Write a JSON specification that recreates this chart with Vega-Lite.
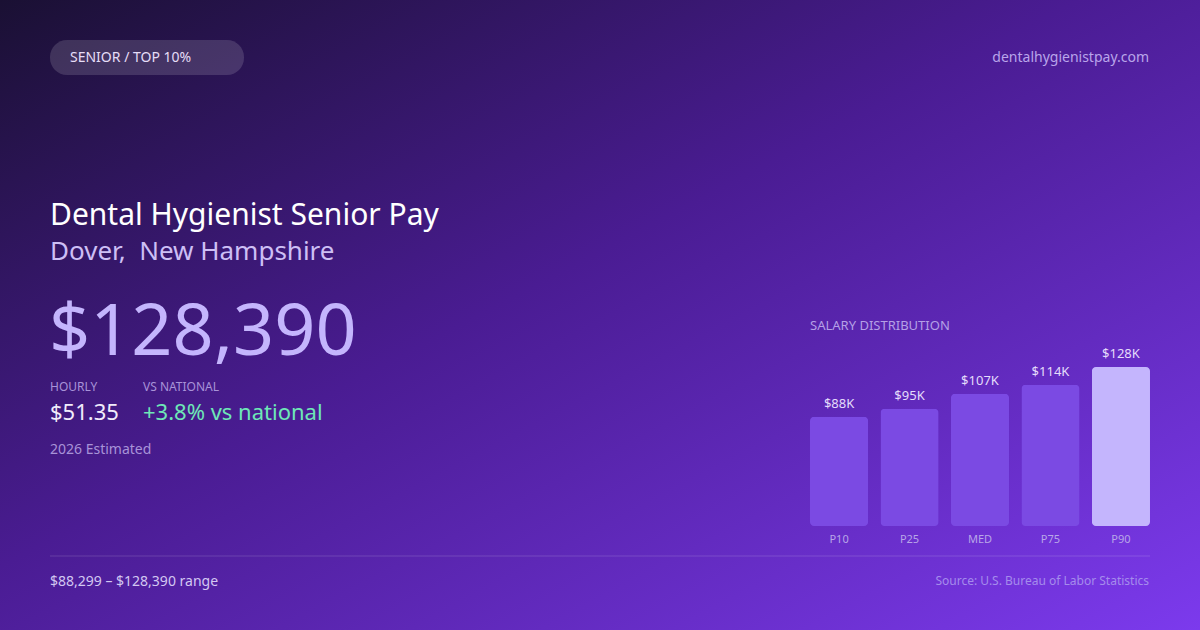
{
  "$schema": "https://vega.github.io/schema/vega-lite/v6.json",
  "width": 1200,
  "height": 630,
  "padding": 0,
  "autosize": {"type": "fit", "contains": "padding"},
  "view": {
    "stroke": null,
    "fill": {
      "gradient": "linear",
      "x1": 0, "y1": 0, "x2": 1, "y2": 1,
      "stops": [
        {"offset": 0, "color": "#1a1033"},
        {"offset": 0.45, "color": "#4a1c93"},
        {"offset": 1, "color": "#7c3aed"}
      ]
    }
  },
  "config": {
    "font": "Noto Sans",
    "text": {"font": "Noto Sans"}
  },
  "data": {
    "values": [
      {"pct": "P10", "value": 88299},
      {"pct": "P25", "value": 94600},
      {"pct": "MED", "value": 106800},
      {"pct": "P75", "value": 114000},
      {"pct": "P90", "value": 128390}
    ]
  },
  "transform": [
    {"calculate": "'$' + round(datum.value / 1000) + 'K'", "as": "label"}
  ],
  "layer": [
    {
      "mark": {"type": "bar", "cornerRadius": 4},
      "encoding": {
        "x": {
          "field": "pct", "type": "nominal", "sort": null,
          "scale": {"range": [810, 1150], "paddingInner": 0.175, "paddingOuter": 0},
          "axis": {
            "title": null, "domain": false, "ticks": false, "grid": false,
            "offset": -97, "labelPadding": 0, "labelFontSize": 11,
            "labelColor": "#b8a6e8", "labelFont": "Noto Sans", "labelAngle": 0
          }
        },
        "y": {
          "field": "value", "type": "quantitative",
          "scale": {"domain": [0, 128390], "range": [526, 367], "nice": false},
          "axis": null
        },
        "color": {
          "condition": {"test": "datum.pct === 'P90'", "value": "#c4b5fd"},
          "value": "#7b4ae3"
        }
      }
    },
    {
      "mark": {"type": "text", "dy": -13, "fontSize": 13, "color": "#e4dcfb"},
      "encoding": {
        "x": {"field": "pct", "type": "nominal", "sort": null, "bandPosition": 0.5},
        "y": {"field": "value", "type": "quantitative"},
        "text": {"field": "label"}
      }
    },
    {
      "data": {"values": [{"t": "badge"}]},
      "mark": {"type": "rect", "cornerRadius": 17, "color": "#ffffff", "opacity": 0.14},
      "encoding": {
        "x": {"value": 50}, "x2": {"value": 244},
        "y": {"value": 40}, "y2": {"value": 75}
      }
    },
    {
      "data": {"values": [{"t": "SENIOR / TOP 10%"}]},
      "mark": {"type": "text", "align": "left", "baseline": "middle", "fontSize": 14, "color": "#e6ddf7"},
      "encoding": {"x": {"value": 70}, "y": {"value": 58}, "text": {"field": "t"}}
    },
    {
      "data": {"values": [{"t": "dentalhygienistpay.com"}]},
      "mark": {"type": "text", "align": "right", "baseline": "middle", "fontSize": 14, "color": "#b9a5ea"},
      "encoding": {"x": {"value": 1149}, "y": {"value": 58}, "text": {"field": "t"}}
    },
    {
      "data": {"values": [{"t": "Dental Hygienist Senior Pay"}]},
      "mark": {"type": "text", "align": "left", "baseline": "alphabetic", "fontSize": 30, "color": "#ffffff"},
      "encoding": {"x": {"value": 50}, "y": {"value": 225}, "text": {"field": "t"}}
    },
    {
      "data": {"values": [{"t": "Dover,\u00a0 New Hampshire"}]},
      "mark": {"type": "text", "align": "left", "baseline": "alphabetic", "fontSize": 26, "color": "#cdbff5"},
      "encoding": {"x": {"value": 50}, "y": {"value": 260}, "text": {"field": "t"}}
    },
    {
      "data": {"values": [{"t": "$128,390"}]},
      "mark": {"type": "text", "align": "left", "baseline": "alphabetic", "fontSize": 72, "color": "#c4b5fd"},
      "encoding": {"x": {"value": 49}, "y": {"value": 355}, "text": {"field": "t"}}
    },
    {
      "data": {"values": [{"t": "HOURLY"}]},
      "mark": {"type": "text", "align": "left", "baseline": "alphabetic", "fontSize": 12, "color": "#a893d8"},
      "encoding": {"x": {"value": 50}, "y": {"value": 391}, "text": {"field": "t"}}
    },
    {
      "data": {"values": [{"t": "VS NATIONAL"}]},
      "mark": {"type": "text", "align": "left", "baseline": "alphabetic", "fontSize": 12, "color": "#a893d8"},
      "encoding": {"x": {"value": 143}, "y": {"value": 391}, "text": {"field": "t"}}
    },
    {
      "data": {"values": [{"t": "$51.35"}]},
      "mark": {"type": "text", "align": "left", "baseline": "alphabetic", "fontSize": 22, "color": "#f1ecfb"},
      "encoding": {"x": {"value": 50}, "y": {"value": 420}, "text": {"field": "t"}}
    },
    {
      "data": {"values": [{"t": "+3.8% vs national"}]},
      "mark": {"type": "text", "align": "left", "baseline": "alphabetic", "fontSize": 22, "color": "#6ee7b7"},
      "encoding": {"x": {"value": 143}, "y": {"value": 420}, "text": {"field": "t"}}
    },
    {
      "data": {"values": [{"t": "2026 Estimated"}]},
      "mark": {"type": "text", "align": "left", "baseline": "alphabetic", "fontSize": 14, "color": "#a893d8"},
      "encoding": {"x": {"value": 50}, "y": {"value": 454}, "text": {"field": "t"}}
    },
    {
      "data": {"values": [{"t": "SALARY DISTRIBUTION"}]},
      "mark": {"type": "text", "align": "left", "baseline": "alphabetic", "fontSize": 13, "color": "#b4a0e6"},
      "encoding": {"x": {"value": 810}, "y": {"value": 330}, "text": {"field": "t"}}
    },
    {
      "data": {"values": [{"t": "line"}]},
      "mark": {"type": "rule", "color": "#ffffff", "opacity": 0.15, "strokeWidth": 1},
      "encoding": {"x": {"value": 50}, "x2": {"value": 1150}, "y": {"value": 556}}
    },
    {
      "data": {"values": [{"t": "$88,299 – $128,390 range"}]},
      "mark": {"type": "text", "align": "left", "baseline": "alphabetic", "fontSize": 14, "color": "#d3c8f2"},
      "encoding": {"x": {"value": 50}, "y": {"value": 586}, "text": {"field": "t"}}
    },
    {
      "data": {"values": [{"t": "Source: U.S. Bureau of Labor Statistics"}]},
      "mark": {"type": "text", "align": "right", "baseline": "alphabetic", "fontSize": 12, "color": "#a58cec"},
      "encoding": {"x": {"value": 1149}, "y": {"value": 585}, "text": {"field": "t"}}
    }
  ]
}
